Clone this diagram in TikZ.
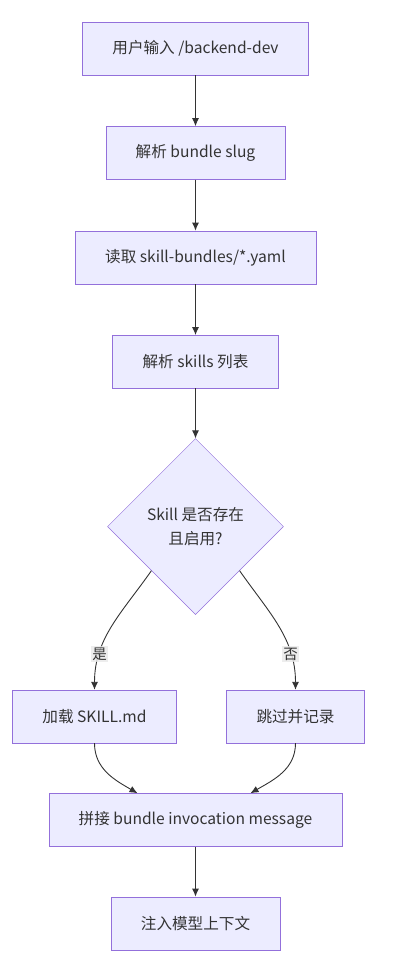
\documentclass[tikz,border=0pt]{standalone}
\usepackage{fontspec}
\setmainfont{Noto Sans CJK SC}
\usetikzlibrary{arrows.meta, positioning, shapes.geometric}

\definecolor{boxfill}{HTML}{ECECFF}
\definecolor{boxline}{HTML}{9370DB}
\definecolor{edgeline}{HTML}{333333}
\definecolor{lblfill}{HTML}{E8E8E8}

\begin{document}
\begin{tikzpicture}[x=1pt, y=1pt,
  every node/.style={text=edgeline, font=\fontsize{15.6}{24}\selectfont},
  box/.style={draw=boxline, fill=boxfill, rectangle, minimum height=53pt, inner xsep=30pt},
  chkbox/.style={draw=boxline, fill=boxfill, diamond, minimum width=176pt, minimum height=176pt, aspect=1, align=center, inner sep=0pt},
  flow/.style={draw=edgeline, line width=0.9pt, -{Latex[length=8pt, width=7pt]}},
  lbl/.style={fill=lblfill, fill opacity=0.8, text opacity=1, inner sep=1.5pt, font=\fontsize{14.5}{16}\selectfont}]

\useasboundingbox (0,0) rectangle (409,-963);

\node [box                           ] (user) at (195.5,-48.5) {用户输入 /backend-dev};
\node [box   , below=51pt of user    ] (slug) {解析 bundle slug};
\node [box   , below=51pt of slug    ] (yaml) {读取 skill-bundles/*.yaml};
\node [box   , below=51pt of yaml    ] (list) {解析 skills 列表};
\node [chkbox, below=50pt of list    ] (chk)  {Skill 是否存在\\且启用?};
\node [box   , below=75pt of chk, xshift=-101pt] (load) {加载 SKILL.md};
\node [box   , below=75pt of chk, xshift=100pt ] (skip) {跳过并记录};
\node [box   , anchor=north          ] (join) at ([yshift=-50pt]load.south -| chk) {拼接 bundle invocation message};
\node [box   , below=50pt of join    ] (ctx)  {注入模型上下文};

\draw [flow] (user) -- (slug);
\draw [flow] (slug) -- (yaml);
\draw [flow] (yaml) -- (list);
\draw [flow] (list) -- (chk);

\draw [flow] (chk.south west) to [out=-125, in=90] node [lbl, pos=0.74] {是} (load.north);
\draw [flow] (chk.south east) to [out=-55 , in=90] node [lbl, pos=0.74] {否} (skip.north);

\draw [flow] (load.south) to [out=-90, in=150] ([xshift=-58pt]join.north);
\draw [flow] (skip.south) to [out=-90, in=30 ] ([xshift=55pt]join.north);

\draw [flow] (join) -- (ctx);

\end{tikzpicture}
\end{document}
